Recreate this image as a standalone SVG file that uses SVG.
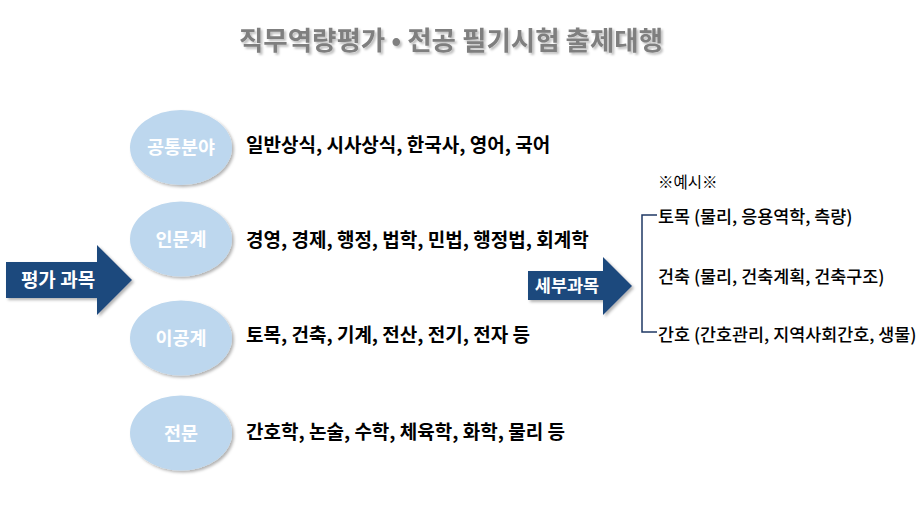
<svg xmlns="http://www.w3.org/2000/svg" width="920" height="517" viewBox="0 0 920 517">
<defs>
<style>
.t{font-family:"Noto Sans CJK KR","Malgun Gothic",sans-serif;}
.title{font-size:26.5px;font-weight:bold;fill:#7f7f7f;}
.ell{fill:#bdd7ee;}
.el-t{font-size:18.5px;font-weight:bold;fill:#ffffff;}
.lst{font-size:19px;font-weight:bold;fill:#000000;}
.sub{font-size:17.4px;font-weight:500;fill:#000000;}
.arr{fill:#1f497d;}
.arr-t{font-weight:bold;fill:#ffffff;}
</style>
<filter id="sh" x="-20%" y="-20%" width="150%" height="150%">
<feDropShadow dx="2" dy="2" stdDeviation="1.5" flood-color="#000" flood-opacity="0.3"/>
</filter>
<filter id="tsh" x="-5%" y="-30%" width="110%" height="160%">
<feDropShadow dx="2" dy="2" stdDeviation="1" flood-color="#000" flood-opacity="0.25"/>
</filter>
</defs>
<rect width="920" height="517" fill="#ffffff"/>
<g id="title">
<text class="t title" filter="url(#tsh)" x="451" y="50" text-anchor="middle">직무역량평가 • 전공 필기시험 출제대행</text>
</g>
<g id="arrow-eval">
<path class="arr" filter="url(#sh)" d="M6,262 H97 V245 L132,280 L97,315 V298 H6 Z"/>
<text class="t arr-t" x="58" y="287" font-size="19" text-anchor="middle">평가 과목</text>
</g>
<g id="node-common">
<ellipse class="ell" filter="url(#sh)" cx="181" cy="147.5" rx="51" ry="37.5"/>
<text class="t el-t" x="181" y="154" text-anchor="middle">공통분야</text>
<text class="t lst" x="246" y="152">일반상식, 시사상식, 한국사, 영어, 국어</text>
</g>
<g id="node-humanities">
<ellipse class="ell" filter="url(#sh)" cx="181" cy="239" rx="51" ry="37.5"/>
<text class="t el-t" x="181" y="245.5" text-anchor="middle">인문계</text>
<text class="t lst" x="246" y="247">경영, 경제, 행정, 법학, 민법, 행정법, 회계학</text>
</g>
<g id="node-science">
<ellipse class="ell" filter="url(#sh)" cx="181" cy="338" rx="51" ry="37.5"/>
<text class="t el-t" x="181" y="344.5" text-anchor="middle">이공계</text>
<text class="t lst" x="246" y="342">토목, 건축, 기계, 전산, 전기, 전자 등</text>
</g>
<g id="node-major">
<ellipse class="ell" filter="url(#sh)" cx="181" cy="433" rx="51" ry="37.5"/>
<text class="t el-t" x="181" y="439.5" text-anchor="middle">전문</text>
<text class="t lst" x="246" y="439">간호학, 논술, 수학, 체육학, 화학, 물리 등</text>
</g>
<g id="arrow-detail">
<path class="arr" filter="url(#sh)" d="M528,271 H603 V257 L632,286 L603,315 V300 H528 Z"/>
<text class="t arr-t" x="567" y="292" font-size="17.5" text-anchor="middle">세부과목</text>
</g>
<g id="connectors">
<path d="M657,215 H642 V332 H657" fill="none" stroke="#1f3864" stroke-width="1.5"/>
</g>
<g id="examples">
<text class="t" x="658" y="188" font-size="15.5" fill="#000">※예시※</text>
<text class="t sub" x="658" y="223">토목 (물리, 응용역학, 측량)</text>
<text class="t sub" x="658" y="283">건축 (물리, 건축계획, 건축구조)</text>
<text class="t sub" x="658" y="341">간호 (간호관리, 지역사회간호, 생물)</text>
</g>
</svg>
